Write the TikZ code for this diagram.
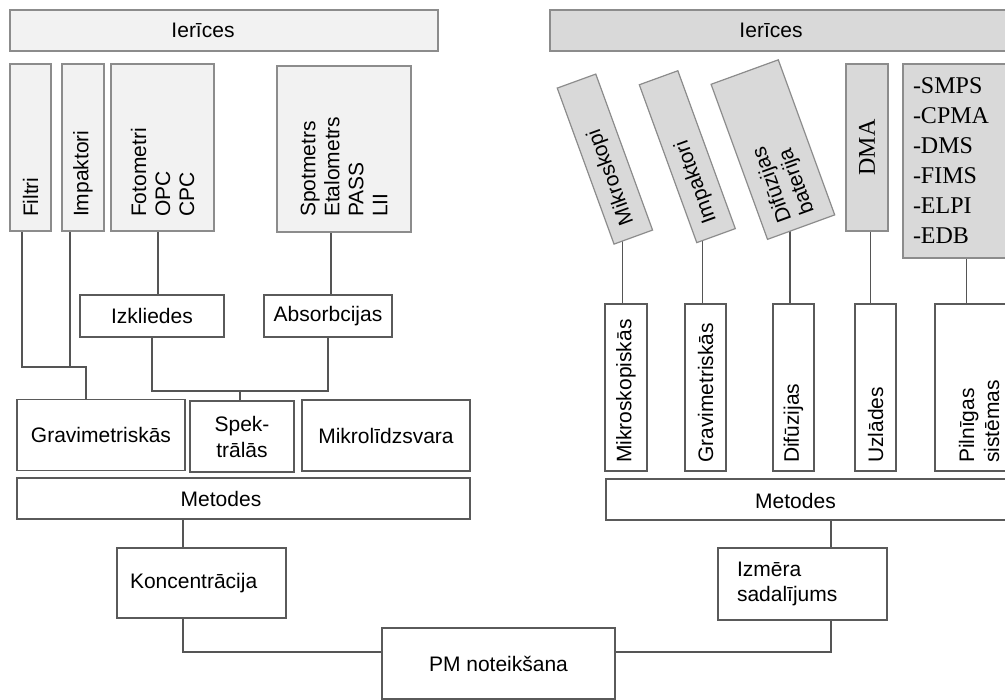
\documentclass[tikz,border=0pt]{standalone}
\usepackage{fontspec}
\setmainfont{Liberation Sans}
\newfontfamily\timesf{Liberation Serif}
\usetikzlibrary{backgrounds,calc}
\definecolor{lineG}{HTML}{8C8C8C}
\definecolor{lineD}{HTML}{5A5A5A}
\definecolor{fillL}{HTML}{F2F2F2}
\definecolor{fillR}{HTML}{D9D9D9}
\definecolor{connC}{HTML}{555555}
\begin{document}
\begin{tikzpicture}[x=1pt,y=-1pt,
  every node/.style={font=\fontsize{21}{24}\selectfont, inner sep=0pt},
  boxL/.style={draw=lineG, fill=fillL, line width=1.2pt},
  boxR/.style={draw=lineG, fill=fillR, line width=1.2pt},
  boxW/.style={draw=lineD, fill=white, line width=1.2pt},
  vtext/.style={rotate=90, align=left},
  conn/.style={draw=connC, line width=1.2pt}]
\useasboundingbox (0,0) rectangle (1005,700);
\clip (0,0) rectangle (1005,700);

% ---------- left half ----------
\node[boxL, minimum width=428, minimum height=41] (ierL) at (224,30.5) {};
\node (ierLt) at (203,30.5) {Ierīces};

\node[boxL, vtext, inner xsep=14, text width=139, minimum height=41] (filtri) at (30.5,147.5) {Filtri};
\node[boxL, vtext, inner xsep=14, text width=139, minimum height=42] (impL) at (83,147.5) {Impaktori};
\node[boxL, vtext, inner xsep=14, text width=139, minimum height=103] (foto) at (162.5,147.5) {Fotometri\\OPC\\CPC};
\node[boxL, vtext, inner xsep=15, text width=136, minimum height=134] (spot) at (344,149) {Spotmetrs\\Etalometrs\\PASS\\LII};

\node[boxW, minimum width=144, minimum height=42] (izk) at (152,316) {Izkliedes};
\node[boxW, minimum width=128, minimum height=42] (abs) at (328,316) {Absorbcijas};

\node[boxW, minimum width=168, minimum height=71] (grav) at (101,435) {Gravimetriskās};
\node[boxW, minimum width=104, minimum height=71, align=center, font=\fontsize{21}{26}\selectfont] (spek) at (242,436.5) {Spek-\\trālās};
\node[boxW, minimum width=168, minimum height=71] (mikro) at (386,435.5) {Mikrolīdzsvara};

\node[boxW, minimum width=453, minimum height=41] (metL) at (243.5,498.5) {};
\node (metLt) at (221,499) {Metodes};

\node[boxW, minimum height=70, text width=143, inner xsep=13, align=left] (konc) at (201.5,583) {Koncentrācija};
\node[boxW, minimum width=233, minimum height=71] (pm) at (498.5,663.5) {PM noteikšana};

% ---------- right half ----------
\node[boxR, minimum width=470, minimum height=41] (ierR) at (785,30.5) {};
\node (ierRt) at (771,30.5) {Ierīces};

\node[boxR, rotate=110, inner xsep=14, text width=138, minimum height=41, align=left] (mikI) at (604.9,159.1) {Mikroskopi};
\node[boxR, rotate=110, inner xsep=14, text width=140, minimum height=41, align=left] (impI) at (687.3,156.7) {Impaktori};
\node[boxR, rotate=110, inner xsep=10, text width=145, minimum height=71.5, align=left] (difI) at (772.9,149.6) {Difūzijas\\baterija};
\node[boxR, rotate=90, minimum width=167, minimum height=42, font=\timesf\fontsize{24}{28}\selectfont] (dma) at (867,147.5) {DMA};
\node[boxR, minimum width=120, minimum height=194, text width=100, inner xsep=10, align=left, font=\timesf\fontsize{24}{30}\selectfont] (smps) at (963,161) {-SMPS\\-CPMA\\-DMS\\-FIMS\\-ELPI\\-EDB};

\node[boxW, vtext, inner xsep=8, text width=151, minimum height=42] (mikM) at (626,387.5) {Mikroskopiskās};
\node[boxW, vtext, inner xsep=8, text width=151, minimum height=41] (gravM) at (705.5,387.5) {Gravimetriskās};
\node[boxW, vtext, inner xsep=8, text width=151, minimum height=41] (difM) at (793.5,387.5) {Difūzijas};
\node[boxW, vtext, inner xsep=8, text width=151, minimum height=41] (uzlM) at (875.5,387.5) {Uzlādes};
\node[boxW, vtext, inner xsep=8, text width=151, minimum height=88, font=\fontsize{21}{25}\selectfont] (pilM) at (979,387.5) {Pilnīgas\\sistēmas};

\node[boxW, minimum width=404, minimum height=41] (metR) at (808,499.5) {};
\node (metRt) at (795.5,501) {Metodes};

\node[boxW, minimum height=72, text width=131, inner xsep=19, align=left, font=\fontsize{21}{25}\selectfont] (izm) at (802.5,584) {Izmēra\\sadalījums};

% ---------- connectors ----------
\begin{pgfonlayer}{background}
\coordinate (jG) at (86,367);
\coordinate (jS) at (240,391);
\draw[conn] ([xshift=-8.5pt]filtri.west) |- (jG) -- (jG |- grav.north);
\draw[conn] ([xshift=-13pt]impL.west) -- ([xshift=-13pt]impL.west |- jG);
\draw[conn] ([xshift=-4.5pt]foto.west) -- ([xshift=-4.5pt]foto.west |- izk.north);
\draw[conn] ([xshift=-13pt]spot.west) -- ([xshift=-13pt]spot.west |- abs.north);
\draw[conn] (izk.south) |- (jS) -| (abs.south);
\draw[conn] (jS) -- (jS |- spek.north);
\draw[conn] ([xshift=-18.5pt]konc.north) -- ([xshift=-18.5pt]konc.north |- metL.south);
\draw[conn] ([xshift=-18.5pt]konc.south) |- ([yshift=11.5pt]pm.west);

\draw[conn] ([xshift=-3.3pt]mikM.east) -- ([xshift=-3.3pt]mikM.east |- mikI.west);
\draw[conn] ([xshift=-2.8pt]gravM.east) -- ([xshift=-2.8pt]gravM.east |- impI.west);
\draw[conn] ([xshift=-3.5pt]difM.east) -- ([xshift=-3.5pt]difM.east |- difI.west);
\draw[conn] ([xshift=-4.8pt]uzlM.east) -- ([xshift=-4.8pt]uzlM.east |- dma.west);
\draw[conn] ([xshift=3.7pt]smps.south) -- ([xshift=3.7pt]smps.south |- pilM.east);
\draw[conn] ([xshift=28.5pt]izm.north) -- ([xshift=28.5pt]izm.north |- metR.south);
\draw[conn] ([xshift=28.5pt]izm.south) |- ([yshift=11.5pt]pm.east);
\end{pgfonlayer}
\end{tikzpicture}
\end{document}
